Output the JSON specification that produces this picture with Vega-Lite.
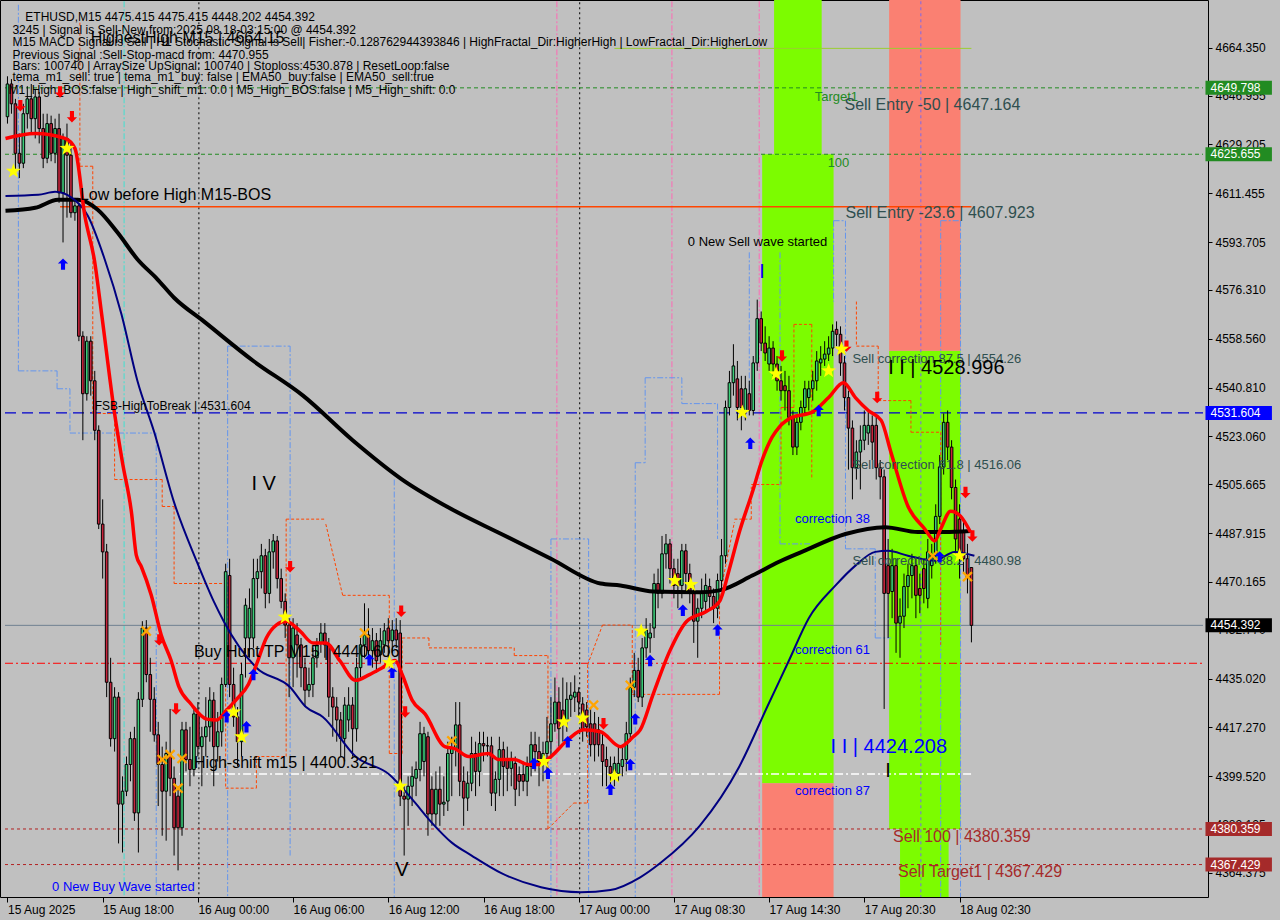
{
"$schema":"https://vega.github.io/schema/vega-lite/v6.json",
"width":1208,"height":897,
"autosize":{"type":"none"},
"padding":{"left":0,"top":0,"right":72,"bottom":23},
"background":"#c0c0c0",
"config":{"view":{"stroke":"#000000","strokeWidth":1}},
"encoding":{
 "x":{"field":"x","type":"quantitative","scale":{"domain":[-0.625,301.375],"nice":false,"zero":false},
   "axis":{"orient":"bottom","title":null,"grid":false,"domain":false,"values":[0,24,48,72,96,120,144,168,192,216,240],
   "labelExpr":"['15 Aug 2025','15 Aug 18:00','16 Aug 00:00','16 Aug 06:00','16 Aug 12:00','16 Aug 18:00','17 Aug 00:00','17 Aug 08:30','17 Aug 14:30','17 Aug 20:30','18 Aug 02:30'][round(datum.value/24)]",
   "labelAlign":"left","labelBaseline":"top","labelPadding":2,"labelFont":"Liberation Sans","labelFontSize":12,"labelColor":"#000000","tickColor":"#000000","tickSize":5,"labelOverlap":false,"labelBound":false,"labelFlush":false}},
 "y":{"field":"y","type":"quantitative","scale":{"domain":[4357.45,4679.92],"nice":false,"zero":false},
   "axis":{"orient":"right","title":null,"grid":false,"domain":false,"values":[4664.35,4646.955,4629.205,4611.455,4593.705,4576.31,4558.56,4540.81,4523.06,4505.665,4487.915,4470.165,4452.77,4435.02,4417.27,4399.52,4382.125,4364.375],
   "format":".3f","labelFont":"Liberation Sans","labelFontSize":12,"labelColor":"#000000","tickColor":"#000000","tickSize":4,"labelPadding":3,"labelOverlap":false,"labelBound":false}}
},
"datasets":{
"candles":[
{"x":0,"o":4639.3,"h":4654.0,"l":4636.8,"c":4651.2},{"x":1,"o":4651.2,"h":4653.0,"l":4640.4,"c":4644.0},{"x":2,"o":4644.0,"h":4645.8,"l":4618.8,"c":4626.0},{"x":3,"o":4626.0,"h":4633.2,"l":4617.0,"c":4622.4},{"x":4,"o":4622.4,"h":4644.0,"l":4620.6,"c":4640.4},{"x":5,"o":4640.4,"h":4650.4,"l":4635.0,"c":4645.8},{"x":6,"o":4645.8,"h":4651.2,"l":4633.2,"c":4638.6},{"x":7,"o":4638.6,"h":4649.4,"l":4631.4,"c":4646.5},{"x":8,"o":4646.5,"h":4648.3,"l":4629.6,"c":4635.0},{"x":9,"o":4635.0,"h":4640.4,"l":4620.6,"c":4624.2},
{"x":10,"o":4624.2,"h":4640.4,"l":4622.4,"c":4636.8},{"x":11,"o":4636.8,"h":4639.7,"l":4623.1,"c":4626.0},{"x":12,"o":4626.0,"h":4638.6,"l":4622.4,"c":4635.0},{"x":13,"o":4635.0,"h":4640.4,"l":4608.0,"c":4611.6},{"x":14,"o":4611.6,"h":4633.2,"l":4593.6,"c":4631.4},{"x":15,"o":4631.4,"h":4636.8,"l":4602.6,"c":4625.3},{"x":16,"o":4625.3,"h":4629.6,"l":4602.6,"c":4604.4},{"x":17,"o":4604.4,"h":4609.8,"l":4601.5,"c":4606.9},{"x":18,"o":4606.9,"h":4608.0,"l":4557.7,"c":4559.5},{"x":19,"o":4559.5,"h":4561.3,"l":4521.7,"c":4538.6},
{"x":20,"o":4538.6,"h":4559.5,"l":4536.1,"c":4557.7},{"x":21,"o":4557.7,"h":4559.5,"l":4537.9,"c":4543.3},{"x":22,"o":4543.3,"h":4546.9,"l":4521.7,"c":4525.3},{"x":23,"o":4525.3,"h":4527.1,"l":4489.4,"c":4491.2},{"x":24,"o":4491.2,"h":4500.2,"l":4471.4,"c":4481.1},{"x":25,"o":4481.1,"h":4484.0,"l":4428.3,"c":4433.7},{"x":26,"o":4433.7,"h":4442.6,"l":4410.3,"c":4413.2},{"x":27,"o":4413.2,"h":4431.9,"l":4408.5,"c":4428.3},{"x":28,"o":4428.3,"h":4430.1,"l":4375.1,"c":4389.4},{"x":29,"o":4389.4,"h":4399.5,"l":4371.8,"c":4394.1},
{"x":30,"o":4394.1,"h":4406.7,"l":4392.3,"c":4403.8},{"x":31,"o":4403.8,"h":4415.7,"l":4397.7,"c":4413.2},{"x":32,"o":4413.2,"h":4417.5,"l":4383.3,"c":4386.2},{"x":33,"o":4386.2,"h":4430.1,"l":4371.8,"c":4427.5},{"x":34,"o":4427.5,"h":4455.9,"l":4424.7,"c":4453.4},{"x":35,"o":4453.4,"h":4456.3,"l":4433.7,"c":4436.5},{"x":36,"o":4436.5,"h":4442.6,"l":4415.7,"c":4427.5},{"x":37,"o":4427.5,"h":4431.9,"l":4412.1,"c":4414.6},{"x":38,"o":4414.6,"h":4419.3,"l":4388.7,"c":4403.8},{"x":39,"o":4403.8,"h":4410.3,"l":4377.9,"c":4394.1},
{"x":40,"o":4394.1,"h":4412.1,"l":4376.1,"c":4407.8},{"x":41,"o":4407.8,"h":4424.0,"l":4392.3,"c":4398.8},{"x":42,"o":4398.8,"h":4403.1,"l":4370.7,"c":4380.8},{"x":43,"o":4392.3,"h":4395.9,"l":4365.3,"c":4380.8},{"x":44,"o":4380.8,"h":4419.3,"l":4377.9,"c":4416.4},{"x":45,"o":4416.4,"h":4419.3,"l":4401.3,"c":4405.6},{"x":46,"o":4405.6,"h":4417.5,"l":4395.9,"c":4402.0},{"x":47,"o":4402.0,"h":4424.7,"l":4399.5,"c":4422.2},{"x":48,"o":4422.2,"h":4426.5,"l":4406.7,"c":4410.3},{"x":49,"o":4410.3,"h":4417.5,"l":4395.9,"c":4413.9},
{"x":50,"o":4413.9,"h":4428.3,"l":4406.7,"c":4417.5},{"x":51,"o":4417.5,"h":4431.9,"l":4412.1,"c":4427.2},{"x":52,"o":4427.2,"h":4430.1,"l":4395.9,"c":4410.3},{"x":53,"o":4410.3,"h":4422.9,"l":4404.9,"c":4415.7},{"x":54,"o":4415.7,"h":4435.4,"l":4410.3,"c":4432.9},{"x":55,"o":4432.9,"h":4476.8,"l":4431.9,"c":4473.9},{"x":56,"o":4472.5,"h":4478.6,"l":4428.3,"c":4432.9},{"x":57,"o":4432.9,"h":4439.0,"l":4417.5,"c":4421.1},{"x":58,"o":4421.1,"h":4424.7,"l":4403.1,"c":4412.1},{"x":59,"o":4412.1,"h":4440.8,"l":4406.7,"c":4436.5},
{"x":60,"o":4449.8,"h":4464.2,"l":4435.4,"c":4461.7},{"x":61,"o":4449.8,"h":4467.8,"l":4442.6,"c":4460.6},{"x":62,"o":4449.8,"h":4478.6,"l":4446.2,"c":4471.4},{"x":63,"o":4471.4,"h":4478.6,"l":4464.2,"c":4473.9},{"x":64,"o":4473.9,"h":4484.0,"l":4467.8,"c":4479.7},{"x":65,"o":4479.7,"h":4482.2,"l":4460.6,"c":4466.0},{"x":66,"o":4466.0,"h":4485.8,"l":4462.4,"c":4481.1},{"x":67,"o":4481.1,"h":4487.6,"l":4475.0,"c":4485.1},{"x":68,"o":4485.1,"h":4486.9,"l":4467.8,"c":4471.4},{"x":69,"o":4471.4,"h":4475.0,"l":4460.6,"c":4463.1},
{"x":70,"o":4463.1,"h":4466.0,"l":4449.8,"c":4454.5},{"x":71,"o":4454.5,"h":4457.0,"l":4428.3,"c":4442.6},{"x":72,"o":4442.6,"h":4457.0,"l":4431.9,"c":4453.4},{"x":73,"o":4450.9,"h":4455.2,"l":4435.4,"c":4447.3},{"x":74,"o":4447.3,"h":4449.8,"l":4431.9,"c":4439.0},{"x":75,"o":4439.0,"h":4442.6,"l":4424.7,"c":4430.8},{"x":76,"o":4430.8,"h":4439.0,"l":4428.3,"c":4432.9},{"x":77,"o":4432.9,"h":4446.2,"l":4428.3,"c":4442.6},{"x":78,"o":4442.6,"h":4449.8,"l":4439.0,"c":4447.3},{"x":79,"o":4448.0,"h":4455.2,"l":4444.4,"c":4451.6},
{"x":80,"o":4451.6,"h":4455.2,"l":4442.6,"c":4447.3},{"x":81,"o":4447.3,"h":4449.8,"l":4421.1,"c":4428.3},{"x":82,"o":4428.3,"h":4431.9,"l":4413.9,"c":4424.7},{"x":83,"o":4424.7,"h":4428.3,"l":4412.1,"c":4420.0},{"x":84,"o":4420.0,"h":4422.9,"l":4406.7,"c":4413.2},{"x":85,"o":4413.2,"h":4428.3,"l":4404.9,"c":4425.4},{"x":86,"o":4420.0,"h":4431.9,"l":4415.7,"c":4425.4},{"x":87,"o":4425.4,"h":4428.3,"l":4406.7,"c":4416.8},{"x":88,"o":4416.8,"h":4442.6,"l":4412.1,"c":4439.0},{"x":89,"o":4439.0,"h":4449.8,"l":4435.4,"c":4447.3},
{"x":90,"o":4447.3,"h":4462.4,"l":4442.6,"c":4450.9},{"x":91,"o":4450.9,"h":4460.6,"l":4440.8,"c":4445.2},{"x":92,"o":4445.2,"h":4453.4,"l":4439.0,"c":4448.8},{"x":93,"o":4448.8,"h":4451.6,"l":4437.2,"c":4441.5},{"x":94,"o":4443.7,"h":4453.4,"l":4440.8,"c":4448.8},{"x":95,"o":4447.3,"h":4455.2,"l":4444.4,"c":4452.4},{"x":96,"o":4453.4,"h":4457.0,"l":4442.6,"c":4448.8},{"x":97,"o":4448.8,"h":4456.3,"l":4444.4,"c":4452.7},{"x":98,"o":4452.7,"h":4457.0,"l":4446.2,"c":4449.1},{"x":99,"o":4451.6,"h":4456.3,"l":4388.7,"c":4392.3},
{"x":100,"o":4392.3,"h":4395.9,"l":4370.7,"c":4391.2},{"x":101,"o":4391.2,"h":4399.5,"l":4381.5,"c":4395.9},{"x":102,"o":4395.9,"h":4403.1,"l":4388.7,"c":4399.5},{"x":103,"o":4398.8,"h":4404.9,"l":4392.3,"c":4402.0},{"x":104,"o":4402.0,"h":4419.3,"l":4397.7,"c":4415.0},{"x":105,"o":4404.9,"h":4417.5,"l":4399.5,"c":4415.0},{"x":106,"o":4413.9,"h":4415.7,"l":4377.9,"c":4385.8},{"x":107,"o":4394.8,"h":4399.5,"l":4381.5,"c":4385.8},{"x":108,"o":4385.8,"h":4401.3,"l":4381.5,"c":4394.8},{"x":109,"o":4394.8,"h":4403.1,"l":4381.5,"c":4389.4},
{"x":110,"o":4389.4,"h":4399.5,"l":4385.1,"c":4390.1},{"x":111,"o":4390.5,"h":4412.1,"l":4386.9,"c":4407.8},{"x":112,"o":4407.8,"h":4413.9,"l":4392.3,"c":4409.6},{"x":113,"o":4409.6,"h":4426.5,"l":4403.1,"c":4418.2},{"x":114,"o":4418.2,"h":4426.5,"l":4392.3,"c":4397.7},{"x":115,"o":4397.7,"h":4403.1,"l":4381.5,"c":4391.6},{"x":116,"o":4391.6,"h":4401.3,"l":4386.9,"c":4397.0},{"x":117,"o":4397.0,"h":4413.9,"l":4394.1,"c":4407.8},{"x":118,"o":4407.8,"h":4412.1,"l":4392.3,"c":4401.3},{"x":119,"o":4401.3,"h":4415.7,"l":4395.9,"c":4411.4},
{"x":120,"o":4411.4,"h":4415.7,"l":4404.9,"c":4410.6},{"x":121,"o":4410.6,"h":4413.9,"l":4406.7,"c":4410.6},{"x":122,"o":4410.6,"h":4413.9,"l":4388.7,"c":4393.4},{"x":123,"o":4393.4,"h":4401.3,"l":4386.9,"c":4398.4},{"x":124,"o":4398.4,"h":4413.9,"l":4392.3,"c":4409.2},{"x":125,"o":4409.2,"h":4412.1,"l":4392.3,"c":4403.1},{"x":126,"o":4405.6,"h":4410.3,"l":4394.1,"c":4402.4},{"x":127,"o":4402.4,"h":4408.5,"l":4395.9,"c":4405.6},{"x":128,"o":4404.2,"h":4406.7,"l":4388.7,"c":4394.8},{"x":129,"o":4400.2,"h":4403.1,"l":4392.3,"c":4397.7},
{"x":130,"o":4400.2,"h":4404.9,"l":4394.1,"c":4397.7},{"x":131,"o":4397.7,"h":4406.7,"l":4392.3,"c":4403.1},{"x":132,"o":4403.1,"h":4415.7,"l":4399.5,"c":4411.0},{"x":133,"o":4411.0,"h":4415.7,"l":4401.3,"c":4408.5},{"x":134,"o":4408.5,"h":4413.9,"l":4395.9,"c":4404.9},{"x":135,"o":4404.9,"h":4412.1,"l":4397.7,"c":4407.8},{"x":136,"o":4407.8,"h":4421.1,"l":4401.3,"c":4412.1},{"x":137,"o":4412.1,"h":4428.3,"l":4406.7,"c":4418.6},{"x":138,"o":4418.6,"h":4435.4,"l":4415.7,"c":4426.5},{"x":139,"o":4426.5,"h":4431.9,"l":4410.3,"c":4416.8},
{"x":140,"o":4423.6,"h":4435.4,"l":4412.1,"c":4418.6},{"x":141,"o":4420.0,"h":4433.7,"l":4415.7,"c":4427.5},{"x":142,"o":4427.5,"h":4433.7,"l":4421.1,"c":4429.0},{"x":143,"o":4428.3,"h":4436.2,"l":4422.9,"c":4430.1},{"x":144,"o":4430.1,"h":4431.9,"l":4421.1,"c":4426.5},{"x":145,"o":4425.8,"h":4428.3,"l":4412.1,"c":4416.4},{"x":146,"o":4423.6,"h":4426.5,"l":4413.9,"c":4417.5},{"x":147,"o":4418.6,"h":4424.7,"l":4406.7,"c":4411.0},{"x":148,"o":4418.6,"h":4422.9,"l":4404.9,"c":4411.0},{"x":149,"o":4416.4,"h":4421.1,"l":4406.7,"c":4411.0},
{"x":150,"o":4411.0,"h":4415.7,"l":4395.9,"c":4404.9},{"x":151,"o":4405.6,"h":4410.3,"l":4395.9,"c":4403.1},{"x":152,"o":4403.1,"h":4406.7,"l":4394.1,"c":4400.6},{"x":153,"o":4400.6,"h":4406.7,"l":4395.9,"c":4404.2},{"x":154,"o":4400.6,"h":4410.3,"l":4397.7,"c":4404.2},{"x":155,"o":4403.1,"h":4410.3,"l":4399.5,"c":4405.6},{"x":156,"o":4405.6,"h":4419.3,"l":4401.3,"c":4415.0},{"x":157,"o":4415.0,"h":4435.4,"l":4412.1,"c":4431.9},{"x":158,"o":4431.9,"h":4444.4,"l":4428.3,"c":4438.0},{"x":159,"o":4438.0,"h":4442.6,"l":4426.5,"c":4428.3},
{"x":160,"o":4428.3,"h":4449.8,"l":4424.7,"c":4446.2},{"x":161,"o":4446.2,"h":4457.0,"l":4442.6,"c":4452.7},{"x":162,"o":4449.8,"h":4455.2,"l":4444.4,"c":4451.6},{"x":163,"o":4453.4,"h":4473.2,"l":4449.8,"c":4469.6},{"x":164,"o":4469.6,"h":4475.0,"l":4460.6,"c":4466.0},{"x":165,"o":4466.0,"h":4486.9,"l":4464.2,"c":4480.4},{"x":166,"o":4480.4,"h":4487.6,"l":4475.0,"c":4484.0},{"x":167,"o":4484.0,"h":4485.8,"l":4469.6,"c":4475.0},{"x":168,"o":4475.0,"h":4478.6,"l":4464.2,"c":4468.9},{"x":169,"o":4473.2,"h":4478.6,"l":4460.6,"c":4468.9},
{"x":170,"o":4468.9,"h":4484.0,"l":4464.2,"c":4481.5},{"x":171,"o":4481.5,"h":4484.0,"l":4466.0,"c":4473.2},{"x":172,"o":4473.2,"h":4476.8,"l":4462.4,"c":4466.7},{"x":173,"o":4466.7,"h":4469.6,"l":4448.0,"c":4455.9},{"x":174,"o":4455.9,"h":4464.2,"l":4442.6,"c":4460.6},{"x":175,"o":4460.6,"h":4471.4,"l":4457.0,"c":4466.7},{"x":176,"o":4463.1,"h":4473.2,"l":4458.8,"c":4468.9},{"x":177,"o":4468.5,"h":4471.4,"l":4460.6,"c":4464.9},{"x":178,"o":4464.9,"h":4467.8,"l":4455.2,"c":4460.6},{"x":179,"o":4460.6,"h":4473.2,"l":4457.0,"c":4470.7},
{"x":180,"o":4470.7,"h":4485.8,"l":4467.8,"c":4479.7},{"x":181,"o":4479.7,"h":4536.1,"l":4476.8,"c":4533.6},{"x":182,"o":4533.6,"h":4546.9,"l":4530.7,"c":4542.6},{"x":183,"o":4542.6,"h":4556.6,"l":4537.9,"c":4548.7},{"x":184,"o":4544.0,"h":4550.5,"l":4528.9,"c":4533.6},{"x":185,"o":4540.4,"h":4545.1,"l":4525.3,"c":4533.6},{"x":186,"o":4532.5,"h":4545.1,"l":4528.9,"c":4540.4},{"x":187,"o":4538.6,"h":4543.3,"l":4530.7,"c":4532.5},{"x":188,"o":4532.5,"h":4552.3,"l":4530.7,"c":4549.8},{"x":189,"o":4549.8,"h":4572.8,"l":4546.9,"c":4565.9},
{"x":190,"o":4565.9,"h":4568.5,"l":4554.1,"c":4557.0},{"x":191,"o":4557.0,"h":4563.1,"l":4550.5,"c":4553.4},{"x":192,"o":4549.4,"h":4559.5,"l":4546.9,"c":4555.2},{"x":193,"o":4555.2,"h":4557.7,"l":4545.1,"c":4549.4},{"x":194,"o":4549.4,"h":4552.3,"l":4539.7,"c":4543.3},{"x":195,"o":4543.3,"h":4548.7,"l":4536.1,"c":4539.7},{"x":196,"o":4541.5,"h":4546.9,"l":4532.5,"c":4539.7},{"x":197,"o":4539.7,"h":4545.1,"l":4527.1,"c":4530.0},{"x":198,"o":4530.0,"h":4532.5,"l":4516.3,"c":4519.2},{"x":199,"o":4519.2,"h":4530.7,"l":4516.3,"c":4528.2},
{"x":200,"o":4528.2,"h":4536.1,"l":4525.3,"c":4533.6},{"x":201,"o":4533.6,"h":4543.3,"l":4530.7,"c":4540.4},{"x":202,"o":4537.2,"h":4543.3,"l":4532.5,"c":4540.4},{"x":203,"o":4540.4,"h":4546.9,"l":4536.1,"c":4543.3},{"x":204,"o":4543.3,"h":4554.1,"l":4539.7,"c":4550.5},{"x":205,"o":4549.8,"h":4555.9,"l":4545.1,"c":4551.2},{"x":206,"o":4551.2,"h":4557.7,"l":4548.7,"c":4553.0},{"x":207,"o":4553.0,"h":4559.5,"l":4550.5,"c":4555.2},{"x":208,"o":4555.2,"h":4563.8,"l":4552.3,"c":4561.3},{"x":209,"o":4562.0,"h":4564.9,"l":4555.9,"c":4560.2},
{"x":210,"o":4560.2,"h":4563.1,"l":4545.1,"c":4549.8},{"x":211,"o":4549.8,"h":4552.3,"l":4532.5,"c":4537.2},{"x":212,"o":4537.2,"h":4539.7,"l":4511.0,"c":4526.1},{"x":213,"o":4526.1,"h":4528.9,"l":4500.2,"c":4511.7},{"x":214,"o":4511.7,"h":4521.7,"l":4507.4,"c":4517.4},{"x":215,"o":4517.4,"h":4527.1,"l":4503.8,"c":4521.7},{"x":216,"o":4521.7,"h":4532.5,"l":4518.1,"c":4527.1},{"x":217,"o":4524.3,"h":4532.5,"l":4520.0,"c":4527.1},{"x":218,"o":4527.1,"h":4530.7,"l":4514.5,"c":4521.0},{"x":219,"o":4527.1,"h":4530.7,"l":4507.4,"c":4511.7},
{"x":220,"o":4511.7,"h":4514.5,"l":4500.2,"c":4508.4},{"x":221,"o":4508.4,"h":4511.0,"l":4424.0,"c":4466.0},{"x":222,"o":4476.1,"h":4485.8,"l":4449.8,"c":4466.0},{"x":223,"o":4466.7,"h":4482.2,"l":4457.0,"c":4476.1},{"x":224,"o":4476.1,"h":4478.6,"l":4444.4,"c":4455.2},{"x":225,"o":4455.2,"h":4464.2,"l":4442.6,"c":4457.7},{"x":226,"o":4457.7,"h":4473.2,"l":4453.4,"c":4468.5},{"x":227,"o":4468.5,"h":4476.8,"l":4460.6,"c":4472.5},{"x":228,"o":4472.5,"h":4480.4,"l":4464.2,"c":4476.1},{"x":229,"o":4476.1,"h":4478.6,"l":4457.0,"c":4465.3},
{"x":230,"o":4467.8,"h":4473.2,"l":4458.8,"c":4465.3},{"x":231,"o":4475.0,"h":4478.6,"l":4462.4,"c":4467.8},{"x":232,"o":4464.2,"h":4485.8,"l":4460.6,"c":4481.1},{"x":233,"o":4476.1,"h":4484.0,"l":4471.4,"c":4479.7},{"x":234,"o":4479.7,"h":4498.4,"l":4476.8,"c":4494.0},{"x":235,"o":4494.0,"h":4516.3,"l":4491.2,"c":4512.0},{"x":236,"o":4512.0,"h":4531.4,"l":4509.2,"c":4528.2},{"x":237,"o":4528.2,"h":4532.5,"l":4514.5,"c":4519.2},{"x":238,"o":4519.2,"h":4521.7,"l":4500.2,"c":4504.5},{"x":239,"o":4504.5,"h":4507.4,"l":4480.4,"c":4485.8},
{"x":240,"o":4493.0,"h":4498.4,"l":4471.4,"c":4478.6},{"x":241,"o":4488.3,"h":4493.0,"l":4473.2,"c":4478.6},{"x":242,"o":4478.6,"h":4484.0,"l":4466.0,"c":4471.4},{"x":243,"o":4475.415,"h":4475.415,"l":4448.202,"c":4454.392}
],
"ma":[
{"s":"r","x":-0.5,"y":4631.4},{"s":"r","x":7,"y":4633.2},{"s":"r","x":14.5,"y":4631.4},{"s":"r","x":17,"y":4627.8},{"s":"r","x":19.5,"y":4603.3},{"s":"r","x":22,"y":4586.4},{"s":"r","x":23.75,"y":4567.4},{"s":"r","x":27,"y":4531.4},{"s":"r","x":29,"y":4513.5},{"s":"r","x":31.25,"y":4495.5},{"s":"r","x":32.5,"y":4479.7},{"s":"r","x":33.75,"y":4475.7},{"s":"r","x":36.25,"y":4465.3},{"s":"r","x":38.75,"y":4450.9},{"s":"r","x":41.25,"y":4441.6},{"s":"r","x":43.25,"y":4431.9},{"s":"r","x":46.25,"y":4425.8},{"s":"r","x":50.25,"y":4420.3},{"s":"r","x":52.75,"y":4420.0},{"s":"r","x":55.25,"y":4423.6},{"s":"r","x":57.75,"y":4427.5},{"s":"r","x":60.75,"y":4433.0},{"s":"r","x":62.75,"y":4440.1},{"s":"r","x":65.25,"y":4449.8},{"s":"r","x":67.75,"y":4454.5},{"s":"r","x":70.25,"y":4455.9},{"s":"r","x":73.75,"y":4452.3},{"s":"r","x":77,"y":4448.0},{"s":"r","x":80.25,"y":4448.0},{"s":"r","x":83.75,"y":4441.6},{"s":"r","x":87.75,"y":4434.4},{"s":"r","x":91.25,"y":4436.5},{"s":"r","x":94.5,"y":4439.0},{"s":"r","x":97.75,"y":4441.6},{"s":"r","x":99.5,"y":4436.5},{"s":"r","x":102,"y":4427.2},{"s":"r","x":105.25,"y":4422.2},{"s":"r","x":110.25,"y":4410.3},{"s":"r","x":112.75,"y":4409.6},{"s":"r","x":116.25,"y":4406.7},{"s":"r","x":121.25,"y":4407.8},{"s":"r","x":123.75,"y":4405.6},{"s":"r","x":127.75,"y":4405.6},{"s":"r","x":131.25,"y":4403.8},{"s":"r","x":133.75,"y":4403.8},{"s":"r","x":137,"y":4406.7},{"s":"r","x":141.25,"y":4412.8},{"s":"r","x":145.25,"y":4416.4},{"s":"r","x":149.5,"y":4415.7},{"s":"r","x":154.5,"y":4410.3},{"s":"r","x":157.75,"y":4413.9},{"s":"r","x":159.5,"y":4416.4},{"s":"r","x":162.75,"y":4429.3},{"s":"r","x":167,"y":4445.2},{"s":"r","x":171.25,"y":4455.9},{"s":"r","x":176.25,"y":4459.5},{"s":"r","x":179.5,"y":4463.1},{"s":"r","x":182,"y":4475.0},{"s":"r","x":184.5,"y":4488.3},{"s":"r","x":187.75,"y":4502.7},{"s":"r","x":190.25,"y":4514.5},{"s":"r","x":192.75,"y":4522.8},{"s":"r","x":194.5,"y":4526.4},{"s":"r","x":197.75,"y":4530.0},{"s":"r","x":202.75,"y":4531.8},{"s":"r","x":207,"y":4537.2},{"s":"r","x":210.75,"y":4542.6},{"s":"r","x":213.75,"y":4537.2},{"s":"r","x":217,"y":4532.5},{"s":"r","x":220.25,"y":4528.9},{"s":"r","x":222.75,"y":4517.1},{"s":"r","x":227,"y":4497.7},{"s":"r","x":231.25,"y":4489.4},{"s":"r","x":233.75,"y":4485.1},{"s":"r","x":235.25,"y":4489.4},{"s":"r","x":237.75,"y":4495.9},{"s":"r","x":240.25,"y":4494.1},{"s":"r","x":242.75,"y":4488.3},
{"s":"k","x":-0.5,"y":4605.1},{"s":"k","x":7,"y":4606.2},{"s":"k","x":12.75,"y":4609.1},{"s":"k","x":17.75,"y":4609.1},{"s":"k","x":22.75,"y":4605.5},{"s":"k","x":27.75,"y":4597.2},{"s":"k","x":32.75,"y":4587.5},{"s":"k","x":37.75,"y":4580.3},{"s":"k","x":42,"y":4573.5},{"s":"k","x":49.5,"y":4564.9},{"s":"k","x":62,"y":4550.5},{"s":"k","x":74.5,"y":4537.9},{"s":"k","x":87,"y":4521.7},{"s":"k","x":99.5,"y":4507.4},{"s":"k","x":112,"y":4496.6},{"s":"k","x":124.5,"y":4487.6},{"s":"k","x":137,"y":4478.6},{"s":"k","x":149.5,"y":4469.6},{"s":"k","x":154.5,"y":4468.9},{"s":"k","x":162.75,"y":4466.7},{"s":"k","x":174.5,"y":4466.4},{"s":"k","x":179.5,"y":4467.1},{"s":"k","x":187.75,"y":4472.5},{"s":"k","x":194.5,"y":4477.5},{"s":"k","x":200.25,"y":4481.1},{"s":"k","x":211.25,"y":4487.6},{"s":"k","x":221.25,"y":4490.1},{"s":"k","x":229.5,"y":4488.3},{"s":"k","x":236.25,"y":4488.3},{"s":"k","x":242.75,"y":4488.7},
{"s":"n","x":-0.5,"y":4610.5},{"s":"n","x":7.75,"y":4610.9},{"s":"n","x":12,"y":4612.0},{"s":"n","x":16.25,"y":4609.8},{"s":"n","x":20.25,"y":4603.3},{"s":"n","x":24.5,"y":4587.5},{"s":"n","x":28.75,"y":4567.4},{"s":"n","x":32.75,"y":4543.3},{"s":"n","x":37,"y":4524.6},{"s":"n","x":42,"y":4499.1},{"s":"n","x":47.75,"y":4477.5},{"s":"n","x":52,"y":4463.1},{"s":"n","x":54.5,"y":4455.9},{"s":"n","x":62.75,"y":4439.0},{"s":"n","x":71.25,"y":4431.9},{"s":"n","x":75.25,"y":4424.7},{"s":"n","x":79.5,"y":4421.1},{"s":"n","x":87.75,"y":4406.7},{"s":"n","x":96.25,"y":4400.2},{"s":"n","x":102,"y":4391.2},{"s":"n","x":107,"y":4382.6},{"s":"n","x":112,"y":4375.4},{"s":"n","x":117,"y":4370.7},{"s":"n","x":124.5,"y":4364.3},{"s":"n","x":134.5,"y":4359.2},{"s":"n","x":144.5,"y":4357.4},{"s":"n","x":152,"y":4358.2},{"s":"n","x":159.5,"y":4362.8},{"s":"n","x":164.5,"y":4367.9},{"s":"n","x":174.5,"y":4381.5},{"s":"n","x":184.5,"y":4403.1},{"s":"n","x":191.5,"y":4424.7},{"s":"n","x":197,"y":4441.6},{"s":"n","x":202,"y":4457.0},{"s":"n","x":208.75,"y":4468.9},{"s":"n","x":213.75,"y":4476.1},{"s":"n","x":218.75,"y":4481.1},{"s":"n","x":222,"y":4481.5},{"s":"n","x":227,"y":4479.7},{"s":"n","x":233.75,"y":4477.9},{"s":"n","x":238.75,"y":4481.1},{"s":"n","x":243.75,"y":4479.7}
],
"zones":[
{"k":"g","x":193.25,"x2":205.25,"y":4690,"y2":4625.655},
{"k":"g","x":190.25,"x2":208.25,"y":4625.655,"y2":4397.0},
{"k":"s","x":190.25,"x2":208.25,"y":4397.0,"y2":4340},
{"k":"s","x":222.25,"x2":240.25,"y":4690,"y2":4554.26},
{"k":"g","x":222.25,"x2":240.25,"y":4554.26,"y2":4380.359},
{"k":"g","x":225,"x2":237.25,"y":4380.359,"y2":4340}
],
"hlines":[
{"k":"hh","x":153,"x2":243,"y":4664.15},
{"k":"lvl","x":-0.625,"x2":301.375,"y":4649.798},
{"k":"lvl","x":-0.625,"x2":301.375,"y":4625.655},
{"k":"bos","x":13.25,"x2":243,"y":4606.6},
{"k":"fsb","x":-0.625,"x2":301.375,"y":4531.604},
{"k":"price","x":-0.625,"x2":301.375,"y":4454.392},
{"k":"tp","x":-0.625,"x2":301.375,"y":4440.606},
{"k":"shift","x":43.25,"x2":243,"y":4400.321},
{"k":"sell","x":-0.625,"x2":301.375,"y":4380.359},
{"k":"sell","x":-0.625,"x2":301.375,"y":4367.429}
],
"segs":[
{"k":"sep","x":48.25,"x2":48.25,"y":4690,"y2":4340},{"k":"sep","x":144.25,"x2":144.25,"y":4690,"y2":4340},{"k":"cyan","x":29.4,"x2":29.4,"y":4690,"y2":4340},
{"k":"pink","x":138.5,"x2":138.5,"y":4690,"y2":4340},{"k":"pink","x":167.5,"x2":167.5,"y":4690,"y2":4340},{"k":"pink","x":189.5,"x2":189.5,"y":4690,"y2":4340},{"k":"purple","x":230.25,"x2":230.25,"y":4690,"y2":4340},
{"k":"b","x":2.75,"x2":2.75,"y":4680,"y2":4546.9},{"k":"b","x":2.75,"x2":12.5,"y":4546.9,"y2":4546.9},{"k":"b","x":12.5,"x2":12.5,"y":4546.9,"y2":4540.4},{"k":"b","x":12.5,"x2":15.75,"y":4540.4,"y2":4540.4},{"k":"b","x":15.75,"x2":15.75,"y":4540.4,"y2":4524.3},{"k":"b","x":15.75,"x2":37.5,"y":4524.3,"y2":4524.3},{"k":"b","x":37.5,"x2":37.5,"y":4524.3,"y2":4350},
{"k":"b","x":55.5,"x2":55.5,"y":4555.9,"y2":4350},{"k":"b","x":55.5,"x2":71.25,"y":4555.9,"y2":4555.9},{"k":"b","x":71.25,"x2":71.25,"y":4555.9,"y2":4370.7},
{"k":"b","x":97.5,"x2":97.5,"y":4507.4,"y2":4350},
{"k":"b","x":137,"x2":137,"y":4485.8,"y2":4350},{"k":"b","x":137,"x2":146.5,"y":4485.8,"y2":4485.8},{"k":"b","x":146.5,"x2":146.5,"y":4485.8,"y2":4350},
{"k":"b","x":158.25,"x2":158.25,"y":4513.5,"y2":4350},{"k":"b","x":158.25,"x2":160.75,"y":4513.5,"y2":4513.5},{"k":"b","x":160.75,"x2":160.75,"y":4544.4,"y2":4513.5},{"k":"b","x":160.75,"x2":170,"y":4544.4,"y2":4544.4},{"k":"b","x":170,"x2":170,"y":4544.4,"y2":4535.0},{"k":"b","x":170,"x2":179,"y":4535.0,"y2":4535.0},{"k":"b","x":179,"x2":179,"y":4535.0,"y2":4485.8},
{"k":"b","x":187,"x2":187,"y":4590.0,"y2":4533.6},{"k":"b","x":194.75,"x2":194.75,"y":4590.0,"y2":4484.0},{"k":"b","x":194.75,"x2":202.75,"y":4484.0,"y2":4484.0},
{"k":"b","x":208.25,"x2":208.25,"y":4601.5,"y2":4572.1},{"k":"b","x":208.25,"x2":211.25,"y":4601.5,"y2":4601.5},{"k":"b","x":211.25,"x2":211.25,"y":4601.5,"y2":4482.2},{"k":"b","x":211.25,"x2":218.75,"y":4482.2,"y2":4482.2},{"k":"b","x":218.75,"x2":218.75,"y":4482.2,"y2":4449.8},{"k":"b","x":218.75,"x2":222.75,"y":4449.8,"y2":4449.8},
{"k":"b","x":235.25,"x2":235.25,"y":4601.5,"y2":4350},{"k":"b","x":235.25,"x2":240.25,"y":4601.5,"y2":4601.5},{"k":"b","x":240.25,"x2":240.25,"y":4601.5,"y2":4350},
{"k":"o","x":18.25,"x2":18.25,"y":4673.5,"y2":4621.3},{"k":"o","x":18.25,"x2":21.5,"y":4621.3,"y2":4621.3},{"k":"o","x":21.5,"x2":21.5,"y":4621.3,"y2":4531.4},{"k":"o","x":21.5,"x2":27,"y":4531.4,"y2":4531.4},{"k":"o","x":27,"x2":27,"y":4531.4,"y2":4507.4},{"k":"o","x":27,"x2":39,"y":4507.4,"y2":4507.4},{"k":"o","x":39,"x2":39,"y":4507.4,"y2":4497.6},{"k":"o","x":39,"x2":42,"y":4497.6,"y2":4497.6},{"k":"o","x":42,"x2":42,"y":4497.6,"y2":4469.6},{"k":"o","x":42,"x2":55,"y":4469.6,"y2":4469.6},{"k":"o","x":55,"x2":55,"y":4469.6,"y2":4395.2},{"k":"o","x":55,"x2":62.75,"y":4395.2,"y2":4395.2},{"k":"o","x":62.75,"x2":62.75,"y":4395.2,"y2":4406.7},{"k":"o","x":62.75,"x2":70.25,"y":4406.7,"y2":4406.7},{"k":"o","x":70.25,"x2":70.25,"y":4406.7,"y2":4493.0},{"k":"o","x":70.25,"x2":80.25,"y":4493.0,"y2":4493.0},{"k":"o","x":80.25,"x2":84.5,"y":4491.2,"y2":4465.3},{"k":"o","x":84.5,"x2":96.25,"y":4465.3,"y2":4465.3},{"k":"o","x":96.25,"x2":96.25,"y":4465.3,"y2":4407.8},{"k":"o","x":96.25,"x2":99.5,"y":4407.8,"y2":4407.8},{"k":"o","x":99.5,"x2":99.5,"y":4407.8,"y2":4449.8},{"k":"o","x":99.5,"x2":106.25,"y":4449.8,"y2":4449.8},{"k":"o","x":106.25,"x2":106.25,"y":4449.8,"y2":4446.2},{"k":"o","x":106.25,"x2":127.75,"y":4446.2,"y2":4446.2},{"k":"o","x":127.75,"x2":127.75,"y":4446.2,"y2":4443.4},{"k":"o","x":127.75,"x2":136.25,"y":4443.4,"y2":4443.4},{"k":"o","x":136.25,"x2":136.25,"y":4443.4,"y2":4380.4},{"k":"o","x":136.25,"x2":142.75,"y":4380.4,"y2":4389.8},{"k":"o","x":142.75,"x2":146.25,"y":4389.8,"y2":4389.8},{"k":"o","x":146.25,"x2":146.25,"y":4389.8,"y2":4440.1},{"k":"o","x":146.25,"x2":150,"y":4440.1,"y2":4454.5},{"k":"o","x":150,"x2":157.5,"y":4454.5,"y2":4454.5},{"k":"o","x":157.5,"x2":157.5,"y":4454.5,"y2":4429.3},{"k":"o","x":157.5,"x2":179.5,"y":4429.3,"y2":4429.3},{"k":"o","x":179.5,"x2":179.5,"y":4429.3,"y2":4464.9},{"k":"o","x":179.5,"x2":183.25,"y":4464.9,"y2":4491.9},{"k":"o","x":183.25,"x2":187.5,"y":4493.0,"y2":4493.0},{"k":"o","x":187.5,"x2":187.5,"y":4493.0,"y2":4504.8},{"k":"o","x":187.5,"x2":195,"y":4505.6,"y2":4505.6},{"k":"o","x":195,"x2":195,"y":4505.6,"y2":4533.6},{"k":"o","x":195,"x2":198.25,"y":4533.6,"y2":4533.6},{"k":"o","x":198.25,"x2":198.25,"y":4533.6,"y2":4563.8},{"k":"o","x":198.25,"x2":202.75,"y":4563.8,"y2":4563.8},{"k":"o","x":202.75,"x2":202.75,"y":4563.8,"y2":4507.4},{"k":"o","x":214,"x2":214,"y":4572.1,"y2":4555.9},{"k":"o","x":214,"x2":219.5,"y":4555.9,"y2":4555.9},{"k":"o","x":219.5,"x2":219.5,"y":4555.9,"y2":4536.1},{"k":"o","x":219.5,"x2":227.75,"y":4536.1,"y2":4536.1},{"k":"o","x":227.75,"x2":227.75,"y":4536.1,"y2":4524.6},{"k":"o","x":227.75,"x2":235.25,"y":4524.6,"y2":4524.6},{"k":"o","x":235.25,"x2":235.25,"y":4524.6,"y2":4447.3}
],
"marks":[
{"k":"down","x":3.25,"y":4643.3},{"k":"down","x":13.25,"y":4648.3},{"k":"down","x":16.25,"y":4639.3},{"k":"down","x":38.25,"y":4449.1},{"k":"down","x":42.5,"y":4424.0},{"k":"down","x":71.25,"y":4475.7},{"k":"down","x":99.25,"y":4459.5},{"k":"down","x":100.25,"y":4422.9},{"k":"down","x":150.25,"y":4418.6},{"k":"down","x":195.25,"y":4552.3},{"k":"down","x":211.5,"y":4555.9},{"k":"down","x":219.25,"y":4537.2},{"k":"down","x":241.5,"y":4502.7},{"k":"down","x":243.25,"y":4486.9},
{"k":"up","x":14,"y":4585.7},{"k":"up","x":55.25,"y":4421.1},{"k":"up","x":60.25,"y":4417.5},{"k":"up","x":62,"y":4436.5},{"k":"up","x":91.25,"y":4441.9},{"k":"up","x":97,"y":4437.3},{"k":"up","x":132.75,"y":4404.2},{"k":"up","x":136.25,"y":4400.6},{"k":"up","x":141.25,"y":4412.1},{"k":"up","x":152,"y":4394.8},{"k":"up","x":157,"y":4403.8},{"k":"up","x":158.25,"y":4420.4},{"k":"up","x":162,"y":4441.6},{"k":"up","x":170.25,"y":4459.9},{"k":"up","x":179,"y":4452.7},{"k":"up","x":187.25,"y":4520.6},{"k":"up","x":204.5,"y":4532.5},{"k":"up","x":235,"y":4479.3},
{"k":"star","x":1.5,"y":4619.5},{"k":"star","x":15,"y":4627.8},{"k":"star","x":57,"y":4422.9},{"k":"star","x":59,"y":4413.9},{"k":"star","x":70,"y":4457.4},{"k":"star","x":96.25,"y":4440.8},{"k":"star","x":99,"y":4395.9},{"k":"star","x":135.25,"y":4404.9},{"k":"star","x":140.25,"y":4419.3},{"k":"star","x":145,"y":4420.7},{"k":"star","x":153,"y":4399.5},{"k":"star","x":159.75,"y":4452.3},{"k":"star","x":168.25,"y":4470.7},{"k":"star","x":172.25,"y":4469.2},{"k":"star","x":185.25,"y":4531.8},{"k":"star","x":193.75,"y":4545.8},{"k":"star","x":207,"y":4546.9},{"k":"star","x":210.25,"y":4554.8},{"k":"star","x":240,"y":4479.7},
{"k":"cross","x":35,"y":4452.3},{"k":"cross","x":39,"y":4405.6},{"k":"cross","x":41,"y":4407.4},{"k":"cross","x":44,"y":4406.0},{"k":"cross","x":43,"y":4395.2},{"k":"cross","x":90,"y":4451.6},{"k":"cross","x":112,"y":4412.4},{"k":"cross","x":147.75,"y":4425.4},{"k":"cross","x":157,"y":4432.6},{"k":"cross","x":233.25,"y":4479.7},{"k":"cross","x":242,"y":4472.1}
],
"texts":[
{"k":"info","x":4.5,"y":4675.6,"t":"ETHUSD,M15  4475.415 4475.415 4448.202 4454.392"},
{"k":"info","x":1.25,"y":4670.9,"t":"3245 | Signal is Sell-New from:2025.08.18-03:15:00 @ 4454.392"},
{"k":"info","x":1.25,"y":4666.3,"t":"M15 MACD Signal is Sell | H1 Stochastic Signal is Sell| Fisher:-0.128762944393846 | HighFractal_Dir:HigherHigh | LowFractal_Dir:HigherLow"},
{"k":"info","x":1.25,"y":4661.9,"t":"Previous Signal :Sell-Stop-macd from: 4470.955"},
{"k":"info","x":1.25,"y":4657.6,"t":"Bars: 100740 | ArraySize UpSignal: 100740 | Stoploss:4530.878 | ResetLoop:false"},
{"k":"info","x":1.25,"y":4653.7,"t":"tema_m1_sell: true | tema_m1_buy: false | EMA50_buy:false | EMA50_sell:true"},
{"k":"info","x":0.25,"y":4649.0,"t":"M1_High_BOS:false | High_shift_m1: 0.0 | M5_High_BOS:false | M5_High_shift: 0.0"},
{"k":"fsb","x":22,"y":4534.0,"t":"FSB-HighToBreak | 4531.604"},
{"k":"big","x":21,"y":4668.1,"t":"HighestHigh  M15 | 4664.15"},
{"k":"big","x":18.25,"y":4610.9,"t":"Low before High  M15-BOS"},
{"k":"big","x":47,"y":4444.8,"t":"Buy Hunt TP M15 | 4440.606"},
{"k":"big","x":47,"y":4404.5,"t":"High-shift m15 | 4400.321"},
{"k":"sell","x":211,"y":4643.6,"t":"Sell Entry -50 | 4647.164"},
{"k":"sell","x":211.25,"y":4604.4,"t":"Sell Entry -23.6 | 4607.923"},
{"k":"target","x":223.25,"y":4377.6,"t":"Sell 100 | 4380.359"},
{"k":"target","x":224.5,"y":4364.6,"t":"Sell Target1 | 4367.429"},
{"k":"corr","x":213,"y":4551.2,"t":"Sell correction 87.5 | 4554.26"},
{"k":"corr","x":213,"y":4512.7,"t":"Sell correction 61.8 | 4516.06"},
{"k":"corr","x":213,"y":4477.9,"t":"Sell correction 38.2 | 4480.98"},
{"k":"bluec","x":198.5,"y":4493.0,"t":"correction 38"},
{"k":"bluec","x":198.5,"y":4445.5,"t":"correction 61"},
{"k":"bluec","x":198.5,"y":4394.1,"t":"correction 87"},
{"k":"waveb","x":11.25,"y":4359.2,"t":"0 New Buy Wave started"},
{"k":"wave","x":171.5,"y":4593.6,"t":"0 New Sell wave started"},
{"k":"green","x":203.5,"y":4646.5,"t":"Target1"},
{"k":"green","x":206.75,"y":4622.4,"t":"100"},
{"k":"roman","x":61.5,"y":4505.6,"t":"I V"},
{"k":"roman","x":97.75,"y":4365.3,"t":"V"},
{"k":"roman","x":222,"y":4548.0,"t":"I I | 4528.996"},
{"k":"roman","x":221.25,"y":4401.3,"t":"I"},
{"k":"romanb","x":207.5,"y":4410.3,"t":"I I | 4424.208"},
{"k":"romanb","x":189.5,"y":4582.9,"t":"I"}
],
"boxes":[
{"k":"g","x":302,"x2":318.75,"y":4649.798,"t":"4649.798"},
{"k":"g","x":302,"x2":318.75,"y":4625.655,"t":"4625.655"},
{"k":"b","x":302,"x2":318.75,"y":4531.604,"t":"4531.604"},
{"k":"k","x":302,"x2":318.75,"y":4454.392,"t":"4454.392"},
{"k":"r","x":302,"x2":318.75,"y":4380.359,"t":"4380.359"},
{"k":"r","x":302,"x2":318.75,"y":4367.429,"t":"4367.429"}
]
},
"layer":[
{"data":{"name":"zones"},"transform":[{"filter":"datum.k=='g'"}],"mark":{"type":"rect","clip":true,"color":"#7cfc00"},"encoding":{"x2":{"field":"x2"},"y2":{"field":"y2"}}},
{"data":{"name":"zones"},"transform":[{"filter":"datum.k=='s'"}],"mark":{"type":"rect","clip":true,"color":"#fa8072"},"encoding":{"x2":{"field":"x2"},"y2":{"field":"y2"}}},
{"data":{"name":"segs"},"transform":[{"filter":"datum.k=='sep'"}],"mark":{"type":"rule","clip":true,"color":"#000000","strokeWidth":1,"strokeDash":[2,3]},"encoding":{"x2":{"field":"x2"},"y2":{"field":"y2"}}},
{"data":{"name":"segs"},"transform":[{"filter":"datum.k=='cyan'"}],"mark":{"type":"rule","clip":true,"color":"#40e0d0","strokeWidth":1,"strokeDash":[6,2,2,2]},"encoding":{"x2":{"field":"x2"},"y2":{"field":"y2"}}},
{"data":{"name":"segs"},"transform":[{"filter":"datum.k=='pink'"}],"mark":{"type":"rule","clip":true,"color":"#ff69b4","strokeWidth":1,"strokeDash":[6,2,2,2]},"encoding":{"x2":{"field":"x2"},"y2":{"field":"y2"}}},
{"data":{"name":"segs"},"transform":[{"filter":"datum.k=='purple'"}],"mark":{"type":"rule","clip":true,"color":"#7b68ee","strokeWidth":1,"strokeDash":[3,3]},"encoding":{"x2":{"field":"x2"},"y2":{"field":"y2"}}},
{"data":{"name":"hlines"},"transform":[{"filter":"datum.k=='lvl'"}],"mark":{"type":"rule","color":"#228b22","strokeWidth":1,"strokeDash":[4,3]},"encoding":{"x2":{"field":"x2"}}},
{"data":{"name":"hlines"},"transform":[{"filter":"datum.k=='hh'"}],"mark":{"type":"rule","color":"#9acd32","strokeWidth":1},"encoding":{"x2":{"field":"x2"}}},
{"data":{"name":"hlines"},"transform":[{"filter":"datum.k=='bos'"}],"mark":{"type":"rule","color":"#ff4500","strokeWidth":1.5},"encoding":{"x2":{"field":"x2"}}},
{"data":{"name":"hlines"},"transform":[{"filter":"datum.k=='fsb'"}],"mark":{"type":"rule","color":"#0000cd","strokeWidth":1.3,"strokeDash":[11,6]},"encoding":{"x2":{"field":"x2"}}},
{"data":{"name":"hlines"},"transform":[{"filter":"datum.k=='price'"}],"mark":{"type":"rule","color":"#708090","strokeWidth":1},"encoding":{"x2":{"field":"x2"}}},
{"data":{"name":"hlines"},"transform":[{"filter":"datum.k=='tp'"}],"mark":{"type":"rule","color":"#ff0000","strokeWidth":1,"strokeDash":[8,3,2,3]},"encoding":{"x2":{"field":"x2"}}},
{"data":{"name":"hlines"},"transform":[{"filter":"datum.k=='shift'"}],"mark":{"type":"rule","color":"#ffffff","strokeWidth":1.5,"strokeDash":[8,3,2,3]},"encoding":{"x2":{"field":"x2"}}},
{"data":{"name":"hlines"},"transform":[{"filter":"datum.k=='sell'"}],"mark":{"type":"rule","color":"#b22222","strokeWidth":1,"strokeDash":[3,3]},"encoding":{"x2":{"field":"x2"}}},
{"data":{"name":"segs"},"transform":[{"filter":"datum.k=='b'"}],"mark":{"type":"rule","clip":true,"color":"#6495ed","strokeWidth":1,"strokeDash":[6,2,2,2]},"encoding":{"x2":{"field":"x2"},"y2":{"field":"y2"}}},
{"data":{"name":"segs"},"transform":[{"filter":"datum.k=='o'"}],"mark":{"type":"rule","clip":true,"color":"#ff4500","strokeWidth":1,"strokeDash":[3,2]},"encoding":{"x2":{"field":"x2"},"y2":{"field":"y2"}}},
{"data":{"name":"candles"},"mark":{"type":"rule","color":"#000000","strokeWidth":1},
 "encoding":{"y":{"field":"h","type":"quantitative","scale":{"domain":[4357.45,4679.92],"nice":false,"zero":false},
   "axis":{"orient":"right","title":null,"grid":false,"domain":false,"values":[4664.35,4646.955,4629.205,4611.455,4593.705,4576.31,4558.56,4540.81,4523.06,4505.665,4487.915,4470.165,4452.77,4435.02,4417.27,4399.52,4382.125,4364.375],
   "format":".3f","labelFont":"Liberation Sans","labelFontSize":12,"labelColor":"#000000","tickColor":"#000000","tickSize":4,"labelPadding":3,"labelOverlap":false,"labelBound":false}},
 "y2":{"field":"l"}}},
{"data":{"name":"candles"},"mark":{"type":"bar","size":2.6,"stroke":"#000000","strokeWidth":1},
 "encoding":{"y":{"field":"o","type":"quantitative","scale":{"domain":[4357.45,4679.92],"nice":false,"zero":false},
   "axis":{"orient":"right","title":null,"grid":false,"domain":false,"values":[4664.35,4646.955,4629.205,4611.455,4593.705,4576.31,4558.56,4540.81,4523.06,4505.665,4487.915,4470.165,4452.77,4435.02,4417.27,4399.52,4382.125,4364.375],
   "format":".3f","labelFont":"Liberation Sans","labelFontSize":12,"labelColor":"#000000","tickColor":"#000000","tickSize":4,"labelPadding":3,"labelOverlap":false,"labelBound":false}},
 "y2":{"field":"c"},
 "fill":{"condition":{"test":"datum.c >= datum.o","value":"#3ccf7a"},"value":"#c8243c"}}},
{"data":{"name":"ma"},"transform":[{"filter":"datum.s=='k'"}],"mark":{"type":"line","color":"#000000","strokeWidth":4,"interpolate":"monotone","clip":true}},
{"data":{"name":"ma"},"transform":[{"filter":"datum.s=='n'"}],"mark":{"type":"line","color":"#000080","strokeWidth":2,"interpolate":"monotone","clip":true}},
{"data":{"name":"ma"},"transform":[{"filter":"datum.s=='r'"}],"mark":{"type":"line","color":"#ff0000","strokeWidth":3.5,"interpolate":"monotone","clip":true}},
{"data":{"name":"texts"},"transform":[{"filter":"indexof(['info','fsb'], datum.k) >= 0"}],"mark":{"type":"text","align":"left","baseline":"middle","font":"Liberation Sans","fontSize":12},
 "encoding":{"text":{"field":"t"},
 "color":{"field":"k","type":"nominal","legend":null,"scale":{"domain":["info","fsb","wave","waveb","corr","bluec","green","big","sell","target","roman","romanb"],"range":["#000000","#000000","#000000","#0000ff","#2f4f4f","#0000ff","#228b22","#000000","#2f4f4f","#a52a2a","#000000","#0000ff"]}}}},
{"data":{"name":"texts"},"transform":[{"filter":"indexof(['wave','waveb','corr','bluec','green'], datum.k) >= 0"}],"mark":{"type":"text","align":"left","baseline":"middle","font":"Liberation Sans","fontSize":13},
 "encoding":{"text":{"field":"t"},
 "color":{"field":"k","type":"nominal","legend":null,"scale":{"domain":["info","fsb","wave","waveb","corr","bluec","green","big","sell","target","roman","romanb"],"range":["#000000","#000000","#000000","#0000ff","#2f4f4f","#0000ff","#228b22","#000000","#2f4f4f","#a52a2a","#000000","#0000ff"]}}}},
{"data":{"name":"texts"},"transform":[{"filter":"indexof(['big','sell','target'], datum.k) >= 0"}],"mark":{"type":"text","align":"left","baseline":"middle","font":"Liberation Sans","fontSize":16},
 "encoding":{"text":{"field":"t"},
 "color":{"field":"k","type":"nominal","legend":null,"scale":{"domain":["info","fsb","wave","waveb","corr","bluec","green","big","sell","target","roman","romanb"],"range":["#000000","#000000","#000000","#0000ff","#2f4f4f","#0000ff","#228b22","#000000","#2f4f4f","#a52a2a","#000000","#0000ff"]}}}},
{"data":{"name":"texts"},"transform":[{"filter":"indexof(['roman','romanb'], datum.k) >= 0"}],"mark":{"type":"text","align":"left","baseline":"middle","font":"Liberation Sans","fontSize":20},
 "encoding":{"text":{"field":"t"},
 "color":{"field":"k","type":"nominal","legend":null,"scale":{"domain":["info","fsb","wave","waveb","corr","bluec","green","big","sell","target","roman","romanb"],"range":["#000000","#000000","#000000","#0000ff","#2f4f4f","#0000ff","#228b22","#000000","#2f4f4f","#a52a2a","#000000","#0000ff"]}}}},
{"data":{"name":"boxes"},"mark":{"type":"bar","size":14},
 "encoding":{"x2":{"field":"x2"},
 "fill":{"field":"k","type":"nominal","legend":null,"scale":{"domain":["g","b","k","r"],"range":["#228b22","#0000ff","#000000","#a52a2a"]}}}},
{"data":{"name":"boxes"},"mark":{"type":"text","align":"left","baseline":"middle","dx":5,"font":"Liberation Sans","fontSize":12,"color":"#ffffff"},
 "encoding":{"text":{"field":"t"}}},
{"data":{"name":"marks"},"transform":[{"filter":"datum.k=='up'"}],"mark":{"type":"point","filled":true,"color":"#0000ff","opacity":1,"size":520,"shape":"M-0.18,0.5L0.18,0.5L0.18,-0.05L0.45,-0.05L0,-0.5L-0.45,-0.05L-0.18,-0.05Z"}},
{"data":{"name":"marks"},"transform":[{"filter":"datum.k=='down'"}],"mark":{"type":"point","filled":true,"color":"#ff0000","opacity":1,"size":520,"shape":"M-0.18,-0.5L0.18,-0.5L0.18,0.05L0.45,0.05L0,0.5L-0.45,0.05L-0.18,0.05Z"}},
{"data":{"name":"marks"},"transform":[{"filter":"datum.k=='cross'"}],"mark":{"type":"point","filled":true,"color":"#ffa500","opacity":1,"size":450,"shape":"M-0.5,-0.35L-0.35,-0.5L0,-0.15L0.35,-0.5L0.5,-0.35L0.15,0L0.5,0.35L0.35,0.5L0,0.15L-0.35,0.5L-0.5,0.35L-0.15,0Z"}},
{"data":{"name":"marks"},"transform":[{"filter":"datum.k=='star'"}],"mark":{"type":"point","filled":true,"color":"#ffff00","opacity":1,"size":1000,"shape":"M0,-0.5L0.1176,-0.1618L0.4755,-0.1545L0.1902,0.0618L0.2939,0.4045L0,0.2L-0.2939,0.4045L-0.1902,0.0618L-0.4755,-0.1545L-0.1176,-0.1618Z"}}
]
}
